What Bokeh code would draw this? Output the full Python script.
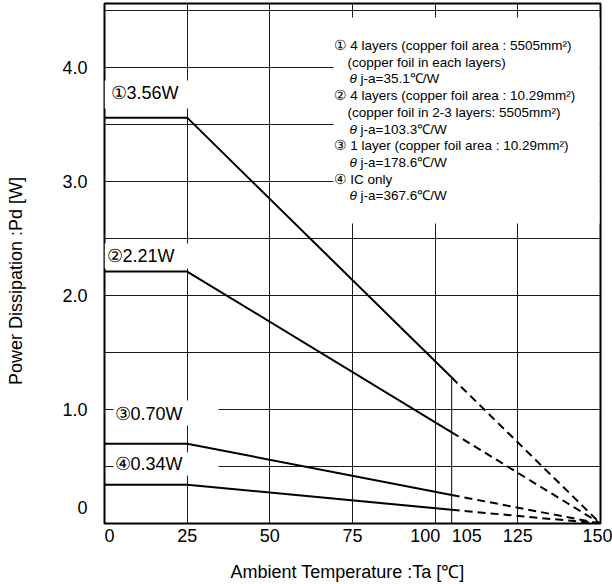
import math
from bokeh.plotting import figure
from bokeh.models import Range1d, FixedTicker, Label
from bokeh.embed import file_html
from bokeh.resources import INLINE

# ---------------- data ----------------
ta_flat_end = 25          # derating starts (°C)
ta_solid_end = 105        # solid line ends (°C)
ta_zero = 150             # Pd reaches 0 (°C)
pd_max = [3.56, 2.21, 0.70, 0.34]        # W, flat part
pd_at_105 = [1.28, 0.80, 0.25, 0.12]     # W, at 105 °C
value_labels = ["①3.56W", "②2.21W", "③0.70W", "④0.34W"]

x_ticks = [0, 25, 50, 75, 100, 105, 125, 150]
x_tick_labels = ["0", "25", "50", "75", "100", "105", "125", "150"]
x_grid = [0, 25, 50, 75, 100, 125, 150]
y_ticks = [0, 1, 2, 3, 4]
y_tick_labels = ["0", "1.0", "2.0", "3.0", "4.0"]
y_grid = [0.5, 1.0, 1.5, 2.0, 2.5, 3.0, 3.5, 4.0, 4.5]

legend_text = [
    ("head", "① 4 layers (copper foil area : 5505mm²)"),
    ("sub", "(copper foil in each layers)"),
    ("theta", "j-a=35.1℃/W"),
    ("head", "② 4 layers (copper foil area : 10.29mm²)"),
    ("sub", "(copper foil in 2-3 layers: 5505mm²)"),
    ("theta", "j-a=103.3℃/W"),
    ("head", "③ 1 layer (copper foil area : 10.29mm²)"),
    ("theta", "j-a=178.6℃/W"),
    ("head", "④ IC only"),
    ("theta", "j-a=367.6℃/W"),
]
x_title = "Ambient Temperature :Ta [℃]"
y_title = "Power Dissipation :Pd [W]"

# ---------------- layout ----------------
FONT = "Liberation Sans"
NB = "\u00a0"
X_MAX = 150
PX_L, PX_R, PX_T, PX_B = 104, 600, 3, 523      # frame in picture pixels
Y_MAX = (PX_B - PX_T) / 114.0


def dx(px):
    return (px - PX_L) * X_MAX / (PX_R - PX_L)


def dy(py):
    return (PX_B - py) * Y_MAX / (PX_B - PX_T)


p = figure(width=612, height=584, x_range=Range1d(0, X_MAX), y_range=Range1d(0, Y_MAX),
           min_border_left=PX_L, min_border_right=612 - PX_R, min_border_top=PX_T,
           min_border_bottom=584 - PX_B,
           output_backend="svg", toolbar_location=None)
p.background_fill_color = "white"
p.border_fill_color = "white"
p.outline_line_color = "black"
p.outline_line_width = 2

# x axis: labels nudged apart for 100 / 105 (as in the original)
x_pad = {0: (2, 0), 100: (0, 4), 105: (6, 0)}
p.xaxis.ticker = FixedTicker(ticks=x_ticks)
p.xaxis.major_label_overrides = {
    t: NB * x_pad.get(t, (0, 0))[0] + lab + NB * x_pad.get(t, (0, 0))[1]
    for t, lab in zip(x_ticks, x_tick_labels)
}
p.xaxis.major_label_standoff = 2
p.xaxis.axis_label = x_title + NB * 2
p.xaxis.axis_label_standoff = 13

# y axis: "0" label raised above the corner
y_zero_pos = round(dy(507), 4)
y_tick_pos = [t if t != 0 else y_zero_pos for t in y_ticks]
p.yaxis.ticker = FixedTicker(ticks=y_tick_pos)
p.yaxis.major_label_overrides = {t: lab for t, lab in zip(y_tick_pos, y_tick_labels)}
p.yaxis.major_label_standoff = 17
p.yaxis.axis_label = y_title + NB * 7
p.yaxis.axis_label_standoff = 33

for ax in (p.xaxis[0], p.yaxis[0]):
    ax.axis_line_color = None
    ax.major_tick_line_color = None
    ax.minor_tick_line_color = None
    ax.major_tick_out = 0
    ax.major_tick_in = 0
    ax.major_label_text_font = FONT
    ax.major_label_text_font_size = "18px"
    ax.major_label_text_color = "black"
    ax.axis_label_text_font = FONT
    ax.axis_label_text_font_size = "18px"
    ax.axis_label_text_font_style = "normal"
    ax.axis_label_text_color = "black"

# grid
p.xgrid.ticker = FixedTicker(ticks=x_grid)
p.ygrid.ticker = FixedTicker(ticks=y_grid)
for g in (p.xgrid[0], p.ygrid[0]):
    g.grid_line_color = "#1a1a1a"
    g.grid_line_width = 1

# white backgrounds (legend block and value labels)
p.quad(left=[dx(333)], right=[dx(599)], top=[dy(17)], bottom=[dy(223)],
       fill_color="white", line_color=None)
label_boxes = [(104, 192, 80, 108), (104, 192, 243, 268), (113, 218, 400, 425), (113, 218, 452, 475)]
p.quad(left=[dx(b[0]) for b in label_boxes], right=[dx(b[1]) for b in label_boxes],
       top=[dy(b[2]) for b in label_boxes], bottom=[dy(b[3]) for b in label_boxes],
       fill_color="white", line_color=None)

# drop line at 105
p.segment(x0=[ta_solid_end], y0=[0], x1=[ta_solid_end], y1=[pd_at_105[0]],
          line_color="black", line_width=1)

# derating curves
for pm, p105 in zip(pd_max, pd_at_105):
    p.line([0, ta_flat_end, ta_solid_end], [pm, pm, p105], line_color="black", line_width=2)
    p.line([ta_solid_end, ta_zero], [p105, 0], line_color="black", line_width=2, line_dash="8 5")

# value labels
label_pos = [(110, 92.5), (106, 255.5), (114, 413), (114, 463)]
for txt, (lx, ly) in zip(value_labels, label_pos):
    p.add_layout(Label(x=dx(lx), y=dy(ly), text=txt, text_font=FONT, text_font_size="18px",
                       text_align="left", text_baseline="middle", text_color="black"))

# legend block
LEG_SIZE = "13.5px"
for i, (kind, txt) in enumerate(legend_text):
    ly = dy(45 + 16.7 * i)
    if kind == "head":
        p.add_layout(Label(x=dx(333), y=ly, text=txt, text_font=FONT, text_font_size=LEG_SIZE,
                           text_baseline="middle", text_color="black"))
    elif kind == "sub":
        p.add_layout(Label(x=dx(347), y=ly, text=txt, text_font=FONT, text_font_size=LEG_SIZE,
                           text_baseline="middle", text_color="black"))
    else:
        p.add_layout(Label(x=dx(349), y=ly, text="θ", text_font=FONT, text_font_size=LEG_SIZE,
                           text_font_style="italic", text_baseline="middle", text_color="black"))
        p.add_layout(Label(x=dx(360), y=ly, text=txt, text_font=FONT, text_font_size=LEG_SIZE,
                           text_baseline="middle", text_color="black"))

open("out.html", "w").write(file_html(p, INLINE))
